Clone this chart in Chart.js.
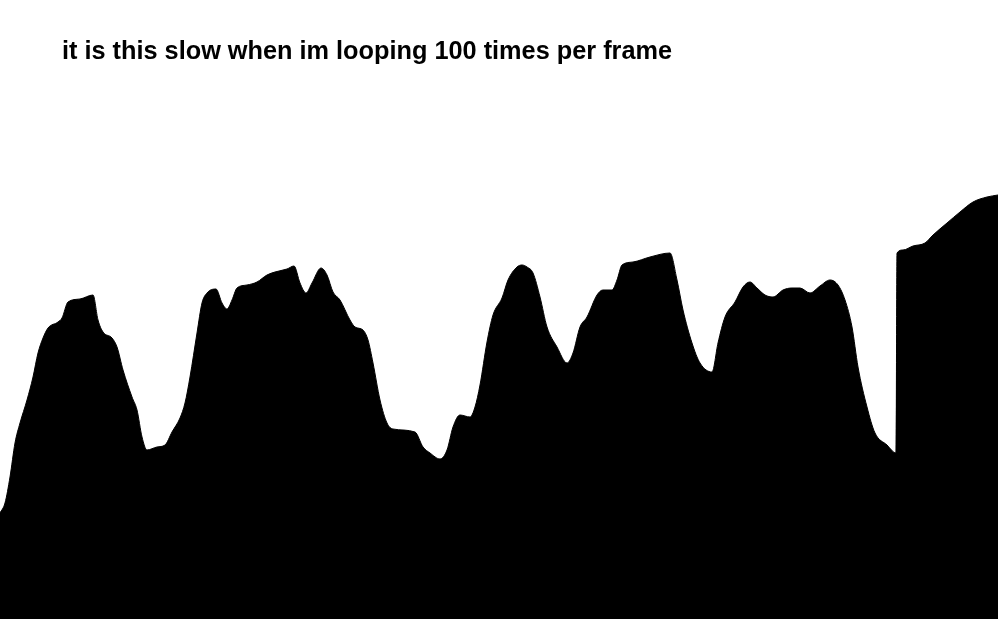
<!DOCTYPE html>
<html>
<head>
<meta charset="utf-8">
<script src="https://cdn.jsdelivr.net/npm/chart.js@4"></script>
<style>
  html, body { margin: 0; padding: 0; background: #fff; overflow: hidden; }
  #wrap { position: relative; width: 998px; height: 619px; }
  #title {
    position: absolute; left: 62px; top: 38px;
    font: bold 25.3px "Liberation Sans", Arial, sans-serif;
    line-height: 25px; color: #000; white-space: nowrap;
  }
  canvas { position: absolute; left: 0; top: 0; }
</style>
</head>
<body>
<div id="wrap">
  <canvas id="frameChart" width="998" height="619"></canvas>
  <div id="title">it is this slow when im looping 100 times per frame</div>
</div>
<script>
// frame index and frame time (ms)
const frames = [
  0, 0.5, 1.0, 1.5, 2.0, 2.7, 3.3, 3.8, 4.3, 4.8, 5.8, 6.2, 6.8, 8.0, 9.3,
  9.8, 10.3, 11.2, 11.7, 12.3, 13.2, 13.7, 14.2, 14.7, 15.7, 16.5, 17.2, 18.0, 18.5, 19.0,
  19.7, 20.2, 20.7, 21.6, 22.2, 22.7, 23.2, 23.7, 24.7, 25.7, 26.7, 27.5, 28.7, 29.4,
  30.0, 30.6, 31.2, 32.1, 32.7, 33.3, 34.0, 35.0, 35.5, 36.3, 36.8, 37.3, 38.0, 38.7,
  39.3, 41.5, 42.3, 43.0, 44.0, 44.7, 45.3, 46.0, 47.0, 47.5, 48.0, 48.7, 49.3,
  50.2, 50.8, 51.7, 52.2, 52.7, 53.3, 54.0, 54.7, 55.7, 56.7, 57.3, 58.0, 58.7, 59.7,
  60.3, 61.2, 61.7, 62.2, 63.3, 65.0, 67.0, 67.7, 68.3, 69.2, 70.0, 71.2, 71.8,
  72.5, 73.5, 74.3, 75.0, 75.7, 76.5, 77.3, 78.3, 79.2, 80.0, 81.0, 82.0, 83.0,
  83.8, 84.5, 85.2, 85.8, 86.7, 87.5, 88.7, 89.6, 89.7, 90.3, 91.3, 92.5, 93.3,
  94.7, 96.0, 97.3, 98.7, 99.8
];
const frameMs = [
  10.6, 11.6, 14.2, 17.6, 19.6, 21.9, 24.2, 26.6, 28.1, 29.1, 29.7, 30.1, 31.7, 32.0, 32.4,
  29.9, 28.7, 28.1, 27.2, 24.9, 22.2, 20.9, 18.2, 16.9, 17.2, 17.4, 18.7, 20.1, 21.6, 24.2,
  28.6, 31.6, 32.6, 33.0, 31.6, 31.0, 31.9, 33.1, 33.4, 33.7, 34.4, 34.7, 35.0, 35.3,
  33.6, 32.6, 33.6, 35.1, 34.4, 32.7, 31.9, 29.9, 29.2, 28.9, 27.9, 25.6, 21.9, 19.6,
  19.0, 18.7, 17.2, 16.6, 16.0, 16.9, 19.2, 20.4, 20.2, 21.2, 23.4, 27.7, 30.4,
  32.1, 33.9, 35.2, 35.4, 35.2, 34.6, 32.2, 29.2, 27.2, 25.6, 26.6, 29.2, 30.2, 32.4,
  32.9, 32.9, 33.9, 35.4, 35.7, 36.2, 36.6, 33.9, 30.9, 27.6, 25.6, 24.7, 27.6,
  30.2, 31.7, 33.2, 33.7, 33.1, 32.4, 32.2, 32.9, 33.1, 33.1, 32.6, 33.3, 33.9,
  33.4, 31.9, 29.2, 25.2, 21.2, 18.6, 17.4, 16.6, 36.6, 36.9, 37.3, 37.6, 38.4,
  39.6, 40.7, 41.7, 42.2, 42.4
];
const xMax = 99.8;
const yMax = 61.9;

const points = frames.map((f, i) => ({ x: f, y: frameMs[i] }));

new Chart(document.getElementById('frameChart'), {
  type: 'line',
  data: {
    datasets: [{
      data: points,
      fill: 'origin',
      backgroundColor: '#000',
      borderColor: '#000',
      borderWidth: 1,
      pointRadius: 0,
      cubicInterpolationMode: 'monotone'
    }]
  },
  options: {
    responsive: false,
    animation: false,
    layout: { padding: 0 },
    plugins: {
      legend: { display: false },
      tooltip: { enabled: false }
    },
    scales: {
      x: { type: 'linear', min: 0, max: xMax, display: false },
      y: { min: 0, max: yMax, display: false }
    }
  }
});
</script>
</body>
</html>
